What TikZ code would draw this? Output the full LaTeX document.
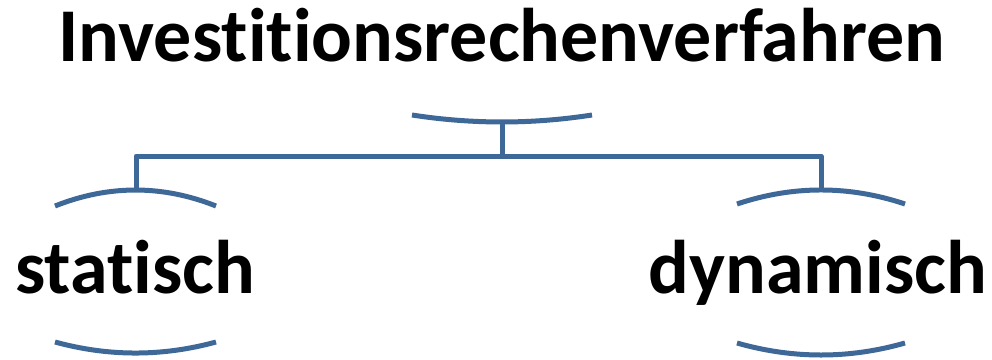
\documentclass[tikz,border=0pt]{standalone}
\usepackage{fontspec}
\setmainfont{Carlito}[RawFeature={-liga}]
\definecolor{linkblue}{RGB}{62,104,152}
\tikzset{
  label text/.style={font=\bfseries\fontsize{76}{84}\selectfont, inner sep=0pt, anchor=base},
  bracket/.style={draw=linkblue, line width=5pt, line cap=butt},
  link/.style={draw=linkblue, line width=5pt, line join=round}
}
\begin{document}
\begin{tikzpicture}[x=1pt,y=-1pt]
\useasboundingbox (0,0) rectangle (992,359);
% labels
\node[label text] (root) at (502,61) {Investitionsrechenverfahren};
\node[label text] (stat) at (135,293) {statisch};
\node[label text] (dyn) at (818,293) {dynamisch};
% bracket midpoints
\coordinate (rootarc) at (502,122);
\coordinate (statarc) at (136,190);
\coordinate (dynarc) at (821,190);
% brackets around the labels
\draw[bracket] (412,115) .. controls (472,124.3) and (532,124.3) .. (592,115);
\draw[bracket] (55,206) .. controls (108.7,184.7) and (162.3,184.7) .. (216,206);
\draw[bracket] (737,204) .. controls (793,185.3) and (849,185.3) .. (905,204);
\draw[bracket] (55,342) .. controls (108.7,356.7) and (162.3,356.7) .. (216,342);
\draw[bracket] (737,343) .. controls (793,359) and (849,359) .. (905,343);
% tree connectors
\coordinate (bus) at (502,156);
\draw[link] (rootarc) -- (bus) -| (statarc);
\draw[link] (bus) -| (dynarc);
\end{tikzpicture}
\end{document}
